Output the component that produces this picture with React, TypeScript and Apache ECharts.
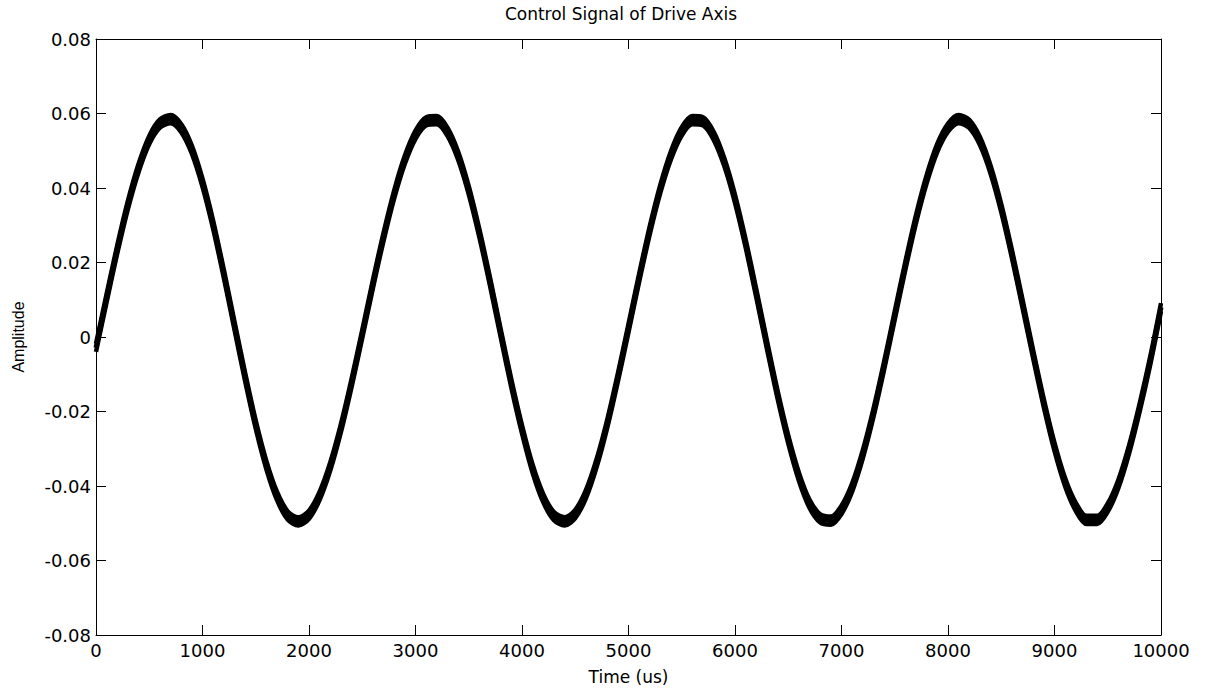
import React, { useEffect, useRef } from "react";
import * as echarts from "echarts";

// Time axis (us), sampled every 100 us
const timeUs: number[] = [
  0, 100, 200, 300, 400, 500, 600, 700, 800, 900,
  1000, 1100, 1200, 1300, 1400, 1500, 1600, 1700, 1800, 1900,
  2000, 2100, 2200, 2300, 2400, 2500, 2600, 2700, 2800, 2900,
  3000, 3100, 3200, 3300, 3400, 3500, 3600, 3700, 3800, 3900,
  4000, 4100, 4200, 4300, 4400, 4500, 4600, 4700, 4800, 4900,
  5000, 5100, 5200, 5300, 5400, 5500, 5600, 5700, 5800, 5900,
  6000, 6100, 6200, 6300, 6400, 6500, 6600, 6700, 6800, 6900,
  7000, 7100, 7200, 7300, 7400, 7500, 7600, 7700, 7800, 7900,
  8000, 8100, 8200, 8300, 8400, 8500, 8600, 8700, 8800, 8900,
  9000, 9100, 9200, 9300, 9400, 9500, 9600, 9700, 9800, 9900,
  10000,
];

// Amplitude (centre of the noisy trace)
const amplitude: number[] = [
  -0.0029, 0.0105, 0.0236, 0.0355, 0.0454, 0.0529, 0.0573, 0.0585, 0.0561, 0.0503,
  0.0414, 0.0301, 0.0170, 0.0031, -0.0107, -0.0235, -0.0344, -0.0427, -0.0479, -0.0495,
  -0.0477, -0.0426, -0.0347, -0.0244, -0.0123, 0.0008, 0.0142, 0.0269, 0.0383, 0.0476,
  0.0543, 0.0579, 0.0582, 0.0551, 0.0487, 0.0394, 0.0278, 0.0148, 0.0010, -0.0125,
  -0.0248, -0.0354, -0.0433, -0.0481, -0.0495, -0.0475, -0.0422, -0.0339, -0.0233, -0.0109,
  0.0024, 0.0159, 0.0287, 0.0399, 0.0489, 0.0552, 0.0582, 0.0579, 0.0540, 0.0469,
  0.0371, 0.0251, 0.0117, -0.0021, -0.0155, -0.0275, -0.0375, -0.0448, -0.0487, -0.0493,
  -0.0464, -0.0404, -0.0315, -0.0204, -0.0077, 0.0058, 0.0192, 0.0317, 0.0424, 0.0508,
  0.0562, 0.0585, 0.0572, 0.0526, 0.0449, 0.0346, 0.0223, 0.0089, -0.0047, -0.0178,
  -0.0295, -0.0390, -0.0456, -0.0491, -0.0491, -0.0458, -0.0394, -0.0302, -0.0189, -0.0062,
  0.0080,
];

// Half-width of the noise band around the trace
const noiseHalfWidth = 0.0011;

const yTickLabels: string[] = ["-0.08", "-0.06", "-0.04", "-0.02", "0", "0.02", "0.04", "0.06", "0.08"];
const xTickLabels: string[] = ["0", "1000", "2000", "3000", "4000", "5000", "6000", "7000", "8000", "9000", "10000"];

const TITLE = "Control Signal of Drive Axis";
const X_NAME = "Time (us)";
const Y_NAME = "Amplitude";

export default function App() {
  const ref = useRef<HTMLDivElement>(null);

  useEffect(() => {
    if (!ref.current) return;
    const chart = echarts.init(ref.current, undefined, { renderer: "svg" });
    const tickFont = { fontFamily: "DejaVu Sans", fontSize: 18, color: "#000" };
    const axisLine = { show: true, onZero: false, lineStyle: { color: "#000", width: 1 } };
    const axisTick = { show: true, inside: true, length: 10, lineStyle: { color: "#000", width: 1 } };

    const xFmt = (v: number) => {
      const i = Math.round(v / 1000);
      return xTickLabels[i] ?? String(v);
    };
    const yFmt = (v: number) => {
      const i = Math.round((v + 0.08) / 0.02);
      return yTickLabels[i] ?? String(v);
    };

    const lineSeries = (data: number[][], width: number) => ({
      type: "line",
      xAxisIndex: 0,
      yAxisIndex: 0,
      data,
      showSymbol: false,
      smooth: 0.3,
      lineStyle: { color: "#000", width, join: "round" },
      silent: true,
    });

    chart.setOption({
      animation: false,
      backgroundColor: "#fff",
      title: {
        text: TITLE,
        left: 616,
        top: 0,
        textAlign: "center",
        textStyle: { fontFamily: "DejaVu Sans", fontSize: 17, fontWeight: "normal", color: "#000" },
      },
      grid: { left: 96, right: 45, top: 39, bottom: 55, containLabel: false },
      xAxis: [
        {
          type: "value",
          min: 0,
          max: 10000,
          interval: 1000,
          position: "bottom",
          name: X_NAME,
          nameLocation: "middle",
          nameGap: 33,
          nameTextStyle: { fontFamily: "DejaVu Sans", fontSize: 17, color: "#000" },
          axisLine,
          axisTick,
          splitLine: { show: false },
          axisLabel: { ...tickFont, margin: 6, formatter: xFmt },
        },
        {
          type: "value",
          min: 0,
          max: 10000,
          interval: 1000,
          position: "top",
          axisLine,
          axisTick,
          splitLine: { show: false },
          axisLabel: { show: false },
        },
      ],
      yAxis: [
        {
          type: "value",
          min: -0.08,
          max: 0.08,
          interval: 0.02,
          position: "left",
          name: Y_NAME,
          nameLocation: "middle",
          nameRotate: 90,
          nameGap: 70,
          nameTextStyle: { fontFamily: "Liberation Sans", fontSize: 16, color: "#000" },
          axisLine,
          axisTick,
          splitLine: { show: false },
          axisLabel: { ...tickFont, margin: 5, formatter: yFmt },
        },
        {
          type: "value",
          min: -0.08,
          max: 0.08,
          interval: 0.02,
          position: "right",
          axisLine,
          axisTick,
          splitLine: { show: false },
          axisLabel: { show: false },
        },
      ],
      series: [
        lineSeries(timeUs.map((t, i) => [t, amplitude[i] + noiseHalfWidth]), 4.5),
        lineSeries(timeUs.map((t, i) => [t, amplitude[i] - noiseHalfWidth]), 4.5),
        lineSeries(timeUs.map((t, i) => [t, amplitude[i]]), 5),
      ],
    });
    return () => chart.dispose();
  }, []);

  return (
    <div
      ref={ref}
      style={{ position: "fixed", left: 0, top: 0, width: 1206, height: 690, background: "#fff" }}
    />
  );
}
